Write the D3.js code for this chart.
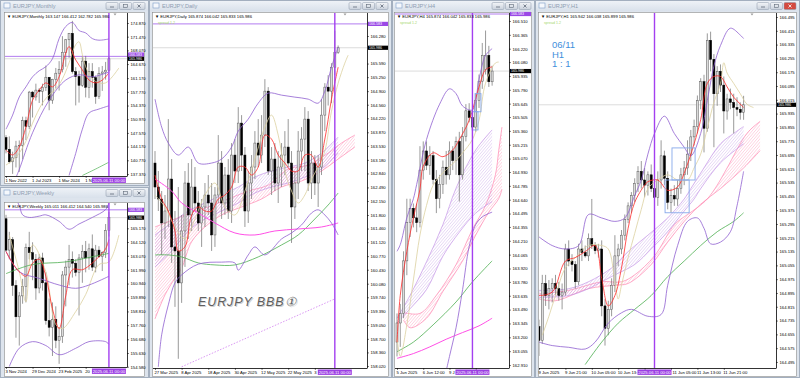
<!DOCTYPE html>
<html>
<head>
<meta charset="utf-8">
<script src="https://cdn.jsdelivr.net/npm/d3@7"></script>
<style>
  html, body { margin: 0; padding: 0; background: #d3dbe5; }
  svg { display: block; font-family: "Liberation Sans", Arial, sans-serif; }
</style>
</head>
<body>
<svg id="chart" width="800" height="378"></svg>
<script>
// ---------- data : [open, high, low, close] per bar ----------
const monthlyCandles = [
  [146.4,147.0,142.5,143.5],[143.5,146.7,140.0,140.4],[140.4,142.9,137.4,141.4],[141.4,145.6,139.0,144.3],
  [144.3,145.7,137.9,144.5],[144.5,151.6,141.0,150.6],[150.6,151.6,145.8,149.2],[149.2,158.0,148.5,157.7],
  [157.7,158.0,151.4,156.5],[156.5,159.8,155.6,158.2],[158.2,158.7,155.0,157.9],[157.9,159.8,154.4,158.9],
  [158.9,164.3,158.0,161.4],[161.4,161.4,153.2,155.7],[155.7,161.0,154.8,160.9],[160.9,163.7,158.6,162.4],
  [162.4,165.4,158.1,163.3],[163.3,171.6,162.6,167.6],[167.6,170.9,164.0,170.7],[170.7,172.4,166.2,172.3],
  [172.3,175.4,162.3,162.8],[162.8,163.9,154.4,161.6],[161.6,163.0,155.1,159.4],[159.4,166.7,159.0,165.4],
  [165.4,166.7,156.4,158.9],[158.9,164.9,156.2,162.8],[162.8,164.9,158.8,161.3],[161.3,161.8,154.8,156.6],
  [156.6,163.9,156.0,162.3],[162.3,164.2,158.0,162.7],[162.7,165.2,160.8,163.147],[163.147,166.412,162.782,165.986]
];
const monthlyTicks = [174.870,171.470,168.070,164.670,161.170,157.770,154.370,150.970,147.570,144.170,140.770,137.370];
const monthlyTimes = [[0,"1 Nov 2022"],[8,"1 Jul 2023"],[16,"1 Mar 2024"],[24,"1 Nov 2024"]];
const monthlyBBUpper = [[0,148.5],[2,152],[4,156.5],[6,159],[8,161.5],[10,163],[12,164],[14,166],[16,171],[18,174],[20,175],[22,173],[24,172.4],[26,171],[28,170.6],[31,170.9]];
const monthlyBBMid = [[3,136.5],[4,138.5],[8,147.6],[13,155.7],[18,160.7],[22,162.0],[26,161.5],[31,162.7]];
const monthlyBBLower = [[19,137.0],[21,142.5],[23,148.5],[25,152.5],[28,153.5],[31,154.3]];
const monthlyFast = [[0,143.3],[2,142.1],[4,144.1],[6,149],[8,155.7],[10,158.2],[12,160],[14,159],[16,161.5],[18,167.4],[19,169],[21,165.7],[23,163.2],[25,160.7],[27,160],[29,160.7],[31,162.5]];
const monthlyLag = [[0,139.6],[3,141.5],[6,145.5],[8,150],[11,155],[13,157],[15,158.5],[17,161],[19,165],[21,169.5],[22,170.2],[23,167],[24,164],[26,161],[28,160],[30,160],[32,161.5],[34,163.7]];
const monthlySlow = [[23,137.0],[27,138.6],[31,140.3]];

const weeklyCandles = [
  [165.9,166.2,163.4,163.5],[163.5,164.9,162.8,164.3],[164.3,164.5,160.0,160.8],[160.8,161.2,156.8,158.4],
  [158.4,160.3,156.2,160.0],[160.0,161.3,159.4,160.7],[160.7,164.0,159.5,163.7],[163.7,164.9,162.8,163.3],
  [163.3,164.1,161.2,162.8],[162.8,163.2,159.7,160.6],[160.6,163.2,160.2,162.9],[162.9,163.3,160.4,161.0],
  [161.0,161.8,157.8,158.1],[158.1,159.8,156.9,157.6],[157.6,159.5,155.4,158.2],[158.2,159.2,156.0,156.6],
  [156.6,157.6,154.8,156.9],[156.9,161.9,156.4,161.6],[161.6,162.7,159.2,162.2],[162.2,163.9,160.8,162.8],
  [162.8,163.4,161.4,162.5],[162.5,162.8,161.5,161.8],[161.8,163.2,158.5,162.9],[162.9,163.9,161.0,163.4],
  [163.4,164.2,161.8,162.9],[162.9,164.0,162.0,163.6],[163.6,164.7,161.9,162.2],[162.2,163.9,161.8,163.5],
  [163.5,163.8,162.9,163.0],[163.0,163.4,161.9,163.3],[163.3,165.5,162.9,165.0],[165.011,166.412,164.54,165.986]
];
const weeklyTicks = [165.170,164.120,163.070,161.990,160.940,159.890,158.810,157.760,156.680,155.630,154.580];
const weeklyTimes = [[0,"3 Nov 2024"],[8,"29 Dec 2024"],[16,"23 Feb 2025"],[24,"20 Apr 2025"]];
const weeklyBBUpper = [[0,168.3],[2,167.8],[4,166.9],[5,166.2],[7,166.0],[10,166.1],[12,166.2],[16,165.7],[19,165.1],[22,165.5],[26,166.0],[30,166.6],[31,167.1]];
const weeklyBBMid = [[0,163.4],[4,161.85],[10,161.34],[16,160.83],[21,160.58],[25,160.83],[31,161.5]];
const weeklyBBLower = [[1,154.6],[4,156.0],[8,156.5],[12,156.2],[16,155.5],[21,155.99],[25,156.5],[30,156.5],[31,156.3]];
const weeklyFast = [[0,163.4],[2,162.5],[4,161.85],[6,161.5],[8,162.5],[10,162.8],[12,161.5],[14,159.0],[16,157.5],[18,160.0],[20,162.0],[23,162.0],[25,162.3],[28,163.0],[30,163.6],[31,164.3]];
const weeklyLag = [[1,164.65],[4,161.85],[6,159.55],[8,163.9],[12,161.85],[15,157.8],[17,157.5],[21,158.8],[24,160.1],[28,162.4],[31,162.6],[34,164.65]];
const weeklySlow = [[0,161.7],[8,162.4],[18,162.6],[28,163.1],[31,163.25]];

const dailyCandles = [
  [163.1,163.4,162.2,162.5],[162.5,162.9,161.9,162.2],[162.2,162.4,160.8,161.6],[161.6,162.3,161.2,161.9],
  [161.9,164.2,161.5,162.7],[162.7,163.2,160.6,161.0],[161.0,161.9,159.5,160.9],[160.9,162.5,158.2,160.1],
  [160.1,161.8,159.6,161.4],[161.4,162.9,160.5,162.6],[162.6,163.1,161.2,161.8],[161.8,163.2,161.4,162.5],
  [162.5,163.0,161.9,162.1],[162.1,162.4,161.4,161.6],[161.6,162.2,161.0,162.0],[162.0,162.6,161.5,162.3],
  [162.3,162.8,161.8,162.1],[162.1,162.6,160.9,161.3],[161.3,162.5,161.0,162.3],[162.3,163.8,162.1,163.1],
  [163.1,163.4,161.7,162.1],[162.1,163.0,161.8,162.8],[162.8,163.2,161.7,161.9],[161.9,163.6,161.6,163.3],
  [163.3,163.7,162.6,162.9],[162.9,164.5,162.6,164.1],[164.1,164.3,162.9,163.3],[163.3,163.5,161.5,161.9],
  [161.9,162.9,161.6,162.6],[162.6,163.3,162.2,163.0],[163.0,163.9,162.7,163.6],[163.6,164.2,163.0,163.3],
  [163.3,164.3,163.1,163.8],[163.8,165.2,163.5,164.9],[164.9,165.0,162.8,162.9],[162.9,163.5,162.3,163.2],
  [163.2,163.6,162.4,162.6],[162.6,163.4,162.1,163.0],[163.0,163.6,162.5,163.3],[163.3,163.9,162.8,163.5],
  [163.5,164.2,163.0,163.1],[163.1,163.4,161.1,162.0],[162.0,162.9,161.7,162.6],[162.6,163.9,162.2,163.4],
  [163.4,164.0,162.9,163.7],[163.7,164.5,162.9,164.2],[164.2,164.4,162.4,162.6],[162.6,163.4,162.2,163.1],
  [163.1,163.3,162.3,162.6],[162.6,163.3,162.0,163.0],[163.0,164.7,162.8,164.3],[164.3,165.1,163.9,165.0],
  [165.0,165.3,164.54,164.9],[164.9,165.6,164.6,165.5],[165.5,166.412,165.3,165.874],[165.874,166.042,165.833,165.986]
];
const dailyTicks = [166.280,165.930,165.590,165.250,164.900,164.560,164.220,163.870,163.530,163.180,162.840,162.490,162.150,161.800,161.460,161.120,160.770,160.430,160.080,159.740,159.390,159.050,158.700,158.360,158.020];
const dailyTimes = [[0,"27 Mar 2025"],[8,"8 Apr 2025"],[16,"18 Apr 2025"],[24,"30 Apr 2025"],[32,"12 May 2025"],[40,"22 May 2025"],[48,"3 Jun 2025"]];
const dailyBBUpper = [[0,164.7],[2,164.0],[4,163.6],[7,163.3],[10,163.5],[13,163.1],[17,163.1],[20,163.2],[23,163.5],[25,163.9],[28,164.2],[31,164.6],[34,164.85],[38,164.8],[42,164.75],[46,164.7],[49,164.6],[51,164.9],[53,165.5],[55,166.0]];
const dailyBBLower = [[1,158.0],[2,158.8],[4,159.55],[6,160.1],[8,160.3],[13,160.57],[20,160.62],[24,160.6],[25,160.42],[28,160.8],[30,161.0],[33,160.8],[38,161.2],[41,161.35],[44,161.55],[47,161.85],[49,161.93],[51,161.8],[53,161.6],[55,161.3]];
const dailyFast = [[0,162.8],[2,162.2],[4,161.9],[6,161.4],[7,160.9],[9,161.0],[11,161.8],[13,162.0],[15,161.9],[17,161.9],[19,162.2],[21,162.3],[23,162.5],[25,163.0],[27,163.0],[29,162.8],[31,163.0],[33,163.8],[35,163.7],[37,163.3],[39,163.1],[41,162.9],[43,162.9],[45,163.3],[47,163.3],[49,163.0],[51,163.7],[53,164.7],[55,165.5]];
const dailyLag = [[0,162.3],[3,162.0],[6,161.5],[9,161.2],[12,161.7],[15,162.3],[18,162.6],[21,162.0],[24,161.8],[27,162.4],[30,163.2],[33,164.0],[35,164.3],[37,163.8],[39,162.9],[41,162.4],[43,162.1],[45,162.3],[47,162.7],[49,163.0],[51,163.4],[53,164.4],[55,165.1],[57,165.6],[58,165.8]];
const dailySlow = [[0,160.8],[4,160.8],[8,160.75],[13,160.6],[18,160.55],[24,160.55],[31,160.75],[38,161.05],[43,161.3],[48,161.7],[52,162.05],[55,162.35]];
const dailyMagenta = [[0,162.7],[5,162.4],[8,162.1],[13,161.85],[18,161.6],[24,161.35],[30,161.3],[36,161.4],[43,161.45],[50,161.5],[55,161.6]];
const dailyPurpleTop = [[0,161.3],[5,161.6],[10,161.9],[15,162.1],[20,162.3],[25,162.5],[30,162.75],[35,162.9],[40,163.0],[45,163.1],[50,163.35],[55,163.75]];
const dailyPurpleBottom = [[0,160.5],[5,160.9],[10,161.4],[15,161.7],[20,161.9],[25,162.1],[30,162.35],[35,162.5],[40,162.6],[45,162.75],[50,162.95],[55,163.35]];
const dailyPinkTop = [[0,161.5],[3,161.6],[6,161.7],[9,161.8],[12,161.9],[16,162.0],[22,162.2],[28,162.4],[34,162.55],[40,162.95],[46,163.05],[52,163.35],[56,163.6],[60,163.8]];
const dailyPinkBottom = [[0,159.2],[3,159.8],[6,160.22],[8,160.47],[11,161.13],[15,161.5],[20,161.8],[26,162.0],[32,162.2],[38,162.5],[44,162.65],[50,162.9],[55,163.2],[60,163.5]];
const dailyTrend = [[8,158.0],[54,159.7]];

const h4Candles = [
  [163.15,163.45,163.00,163.35],[163.35,163.55,163.10,163.45],[163.45,164.10,163.40,164.00],[164.00,164.65,163.85,164.40],
  [164.40,164.65,164.25,164.55],[164.55,164.60,164.35,164.45],[164.45,164.60,164.30,164.40],[164.40,165.20,164.35,164.95],
  [164.95,165.25,164.85,165.15],[165.15,165.25,164.95,165.00],[165.00,165.20,164.90,165.10],[165.10,165.15,164.80,164.85],
  [164.85,164.95,164.50,164.65],[164.65,164.90,164.55,164.80],[164.80,165.05,164.70,164.98],[164.98,165.15,164.80,164.90],
  [164.90,165.25,164.85,165.15],[165.15,165.20,164.95,165.05],[165.05,165.30,164.90,165.25],[165.25,165.35,164.62,164.90],
  [164.90,165.40,164.85,165.30],[165.30,165.64,165.25,165.57],[165.57,165.65,165.45,165.50],[165.50,165.55,165.30,165.40],
  [165.40,165.75,165.35,165.68],[165.68,165.95,165.60,165.88],[165.88,166.28,165.80,166.15],[166.00,166.41,165.95,166.15],
  [166.15,166.25,165.82,165.874],[165.874,166.042,165.833,165.986]
];
const h4Ticks = [166.510,166.365,166.220,166.080,165.935,165.790,165.645,165.505,165.360,165.215,165.070,164.930,164.785,164.640,164.495,164.355,164.210,164.065,163.920,163.780,163.635,163.490,163.345,163.200,163.055,162.910];
const h4Times = [[0,"5 Jun 2025"],[8,"6 Jun 12:00"],[16,"9 Jun 20:00"],[24,"11 Jun 04:00"]];
const h4BBUpper = [[0,164.1],[1,164.17],[3,164.45],[5,164.65],[6,164.8],[9,165.27],[13,165.64],[16,165.8],[18,165.75],[20,165.62],[23,165.58],[25,165.9],[27,166.15],[29,166.22]];
const h4BBLower = [[15,162.85],[16,163.0],[18,163.3],[20,163.7],[22,164.15],[24,164.38],[26,164.46],[29,164.51]];
const h4Fast = [[0,163.15],[1,163.64],[3,164.1],[5,164.45],[7,164.75],[8,164.99],[11,165.13],[14,165.09],[17,165.16],[19,165.27],[22,165.47],[25,165.82],[27,166.0],[29,166.03]];
const h4Lag = [[0,163.2],[1,163.0],[3,163.33],[5,163.8],[7,164.27],[9,164.58],[11,164.79],[14,164.92],[18,165.05],[20,165.13],[23,165.27],[25,165.47],[27,165.86],[30,166.07],[31,166.08]];
const h4Slow = [[0,163.05],[5,163.15],[11,163.33],[18,163.57],[23,163.78],[29,164.0]];
const h4Magenta = [[0,162.98],[5,163.03],[10,163.1],[15,163.18],[20,163.25],[25,163.32],[29,163.4]];
const h4PurpleTop = [[0,163.4],[4,163.64],[9,163.99],[14,164.38],[18,164.76],[24,165.16],[29,165.37]];
const h4PurpleBottom = [[0,163.35],[4,163.5],[9,163.7],[14,164.05],[19,164.3],[24,164.5],[29,164.62]];
const h4PinkTop = [[2,163.46],[7,163.45],[12,163.64],[18,163.96],[23,164.33],[27,164.58],[30,164.9],[31,165.15],[32,165.4]];
const h4PinkBottom = [[2,163.38],[4,163.3],[9,163.4],[14,163.68],[20,164.0],[24,164.27],[28,164.51],[31,164.65],[32,164.75]];
const h4Boxes = [[23.8,25.6,165.75,165.56],[22.9,24.7,165.56,165.37]];

const h1Candles = [
  [164.70,164.74,164.53,164.62],[164.62,165.00,164.60,164.95],[164.95,165.00,164.82,164.88],[164.88,164.97,164.80,164.92],
  [164.92,164.98,164.84,164.95],[164.95,165.00,164.88,164.92],[164.92,164.96,164.85,164.88],[164.88,164.95,164.80,164.90],
  [164.90,165.18,164.88,165.15],[165.15,165.20,165.05,165.08],[165.08,165.12,165.02,165.06],[165.06,165.08,164.92,164.96],
  [164.96,165.18,164.94,165.15],[165.15,165.20,165.08,165.13],[165.13,165.17,165.10,165.11],[165.11,165.24,165.08,165.21],
  [165.21,165.44,165.15,165.17],[165.17,165.19,165.12,165.14],[165.14,165.18,165.10,165.15],[165.15,165.20,164.76,164.82],
  [164.82,164.86,164.59,164.69],[164.69,164.85,164.65,164.80],[164.80,164.98,164.76,164.94],[164.94,165.23,164.90,165.11],
  [165.11,165.18,165.05,165.15],[165.15,165.26,165.12,165.23],[165.23,165.35,165.20,165.32],[165.32,165.42,165.30,165.40],
  [165.40,165.48,165.36,165.46],[165.46,165.56,165.42,165.53],[165.53,165.63,165.48,165.60],[165.60,165.66,165.50,165.55],
  [165.55,165.62,165.45,165.52],[165.52,165.60,165.46,165.58],[165.58,165.64,165.48,165.50],[165.50,165.56,165.40,165.45],
  [165.45,165.60,165.40,165.55],[165.55,165.78,165.50,165.69],[165.69,165.72,165.52,165.56],[165.56,165.60,165.38,165.42],
  [165.42,165.50,165.36,165.46],[165.46,165.52,165.40,165.44],[165.44,165.55,165.40,165.50],[165.50,165.62,165.47,165.58],
  [165.58,165.66,165.52,165.62],[165.62,165.78,165.58,165.70],[165.70,165.84,165.66,165.80],[165.80,165.90,165.75,165.86],
  [165.86,166.04,165.82,166.01],[166.01,166.14,165.96,166.12],[166.12,166.16,165.71,165.85],[165.85,166.40,165.83,166.36],
  [166.36,166.41,166.18,166.25],[166.25,166.28,165.74,166.05],[166.05,166.21,165.98,166.18],[166.18,166.22,166.06,166.10],
  [166.10,166.15,165.82,165.95],[165.95,166.05,165.90,166.02],[166.02,166.08,165.96,166.00],[166.00,166.05,165.82,165.97],
  [165.97,166.03,165.92,165.96],[165.96,166.00,165.90,165.942],[165.942,166.038,165.899,165.986]
];
const h1Ticks = [166.495,166.415,166.335,166.255,166.175,166.095,166.015,165.935,165.855,165.775,165.695,165.615,165.535,165.455,165.375,165.295,165.215,165.135,165.055,164.975,164.895,164.815,164.735,164.655,164.575,164.495];
const h1Times = [[0,"9 Jun 2025"],[8,"9 Jun 21:00"],[16,"10 Jun 05:00"],[24,"10 Jun 13:00"],[32,"10 Jun 21:00"],[40,"11 Jun 05:00"],[48,"11 Jun 13:00"],[56,"11 Jun 21:00"]];
const h1BBUpper = [[0,165.22],[4,165.17],[8,165.15],[12,165.17],[15,165.35],[19,165.33],[23,165.31],[26,165.33],[29,165.46],[31,165.55],[33,165.7],[35,165.82],[38,165.92],[41,165.82],[44,165.74],[46,165.69],[49,165.82],[51,166.01],[53,166.21],[55,166.33],[58,166.43],[61,166.39],[62,166.37]];
const h1BBLower = [[0,164.61],[4,164.59],[9,164.58],[14,164.57],[17,164.61],[21,164.72],[25,164.78],[28,164.8],[33,164.76],[37,164.77],[39,164.94],[42,165.17],[45,165.31],[48,165.33],[50,165.27],[52,165.18],[55,165.19],[58,165.25],[60,165.4],[62,165.6]];
const h1Fast = [[0,164.88],[4,164.9],[8,165.08],[11,165.1],[14,165.135],[17,165.17],[19,164.98],[21,164.82],[23,164.88],[25,165.04],[27,165.27],[29,165.42],[32,165.52],[33,165.54],[36,165.55],[39,165.49],[42,165.51],[44,165.59],[47,165.76],[49,165.9],[51,166.11],[53,166.15],[55,166.15],[57,166.09],[59,166.03],[61,165.99],[62,165.97]];
const h1Lag = [[1,164.65],[3,164.76],[5,164.88],[8,165.04],[11,165.1],[15,165.17],[19,165.17],[21,165.15],[23,164.96],[24,164.86],[25,164.94],[27,165.1],[29,165.24],[31,165.38],[33,165.5],[36,165.55],[39,165.58],[42,165.55],[45,165.55],[47,165.62],[49,165.7],[51,165.85],[53,166.0],[55,166.11],[56,166.23],[57,166.17],[59,166.11],[61,166.05],[63,165.99],[65,165.97]];
const h1Slow = [[14,164.48],[19,164.61],[24,164.72],[29,164.8],[34,164.88],[39,164.99],[44,165.08],[49,165.17],[54,165.25],[59,165.31],[62,165.36]];
const h1PurpleTop = [[0,164.91],[9,164.92],[15,164.96],[22,165.04],[27,165.135],[33,165.23],[39,165.33],[44,165.44],[46,165.5],[49,165.59],[55,165.76],[59,165.82],[62,165.86]];
const h1PurpleBottom = [[0,164.87],[9,164.88],[15,164.92],[19,164.96],[23,165.0],[29,165.06],[34,165.15],[39,165.25],[44,165.37],[47,165.44],[49,165.5],[55,165.65],[62,165.76]];
const h1PinkTop = [[0,164.89],[9,164.91],[19,164.96],[25,164.96],[29,165.0],[35,165.11],[41,165.29],[45,165.35],[48,165.39],[51,165.44],[54,165.52],[57,165.62],[63,165.82],[67,165.89]];
const h1PinkBottom = [[0,164.86],[5,164.85],[15,164.92],[23,164.94],[27,164.95],[34,165.06],[39,165.19],[44,165.31],[49,165.41],[55,165.5],[62,165.62],[67,165.72]];
const h1Boxes = [[40.3,47.3,165.736,165.55],[38.2,45.5,165.55,165.36]];
const h1Notes = ["06/11", "H1", "1 : 1"];

const markLevel = 166.583;
const markTime = "2025.06.11 00:00";

// ---------- drawing ----------
const svg = d3.select("#chart");
const defs = svg.append("defs");

function hatch(id, color) {
  const p = defs.append("pattern").attr("id", id).attr("patternUnits", "userSpaceOnUse")
    .attr("width", 2.2).attr("height", 2.2).attr("patternTransform", "rotate(40)");
  p.append("line").attr("x1", 0).attr("y1", 0).attr("x2", 0).attr("y2", 2.2)
    .attr("stroke", color).attr("stroke-width", 0.7);
}
hatch("hatchPink", "#ff8db4");
hatch("hatchPurple", "#c29be6");

const tg = defs.append("linearGradient").attr("id", "titleGrad").attr("x1", 0).attr("y1", 0).attr("x2", 0).attr("y2", 1);
tg.append("stop").attr("offset", "0%").attr("stop-color", "#eef2f7");
tg.append("stop").attr("offset", "100%").attr("stop-color", "#d9e1eb");
const bg = defs.append("linearGradient").attr("id", "btnGrad").attr("x1", 0).attr("y1", 0).attr("x2", 0).attr("y2", 1);
bg.append("stop").attr("offset", "0%").attr("stop-color", "#f3f5f8");
bg.append("stop").attr("offset", "100%").attr("stop-color", "#c9d1dc");

const fmt = d3.format(".3f");

function drawPanel(p, idx) {
  const [wx, wy, ww, wh] = p.win;
  const [cx0, cy0, cx1, cy1] = p.chart;
  const g = svg.append("g");

  // window frame + title bar
  g.append("rect").attr("x", wx + 0.5).attr("y", wy + 0.5).attr("width", ww - 1).attr("height", wh - 1)
    .attr("fill", "#dde4ed").attr("stroke", "#a3afbf");
  g.append("rect").attr("x", wx + 1).attr("y", wy + 1).attr("width", ww - 2).attr("height", 10).attr("fill", "url(#titleGrad)");
  g.append("rect").attr("x", wx + 4).attr("y", wy + 3).attr("width", 6).attr("height", 5)
    .attr("fill", "#f5f8fc").attr("stroke", "#7c9cc6").attr("stroke-width", 0.6);
  g.append("text").attr("x", wx + 13).attr("y", wy + 8).attr("font-size", 5.6).attr("fill", "#8e9db1").text(p.title);
  [0, 1, 2].forEach(k => {
    const bx = wx + ww - 43 + k * 13.5;
    const red = p.active && k === 2;
    g.append("rect").attr("x", bx).attr("y", wy + 2.5).attr("width", 12).attr("height", 7).attr("rx", 1.2)
      .attr("fill", red ? "#d44a3f" : "url(#btnGrad)").attr("stroke", "#8a97a8").attr("stroke-width", 0.5);
    const gc = red ? "#fff" : "#606a78";
    if (k === 0) g.append("line").attr("x1", bx + 4).attr("x2", bx + 8).attr("y1", wy + 7).attr("y2", wy + 7).attr("stroke", gc).attr("stroke-width", 0.8);
    if (k === 1) g.append("rect").attr("x", bx + 4).attr("y", wy + 4.5).attr("width", 4).attr("height", 3).attr("fill", "none").attr("stroke", gc).attr("stroke-width", 0.6);
    if (k === 2) g.append("path").attr("d", `M${bx + 4.5},${wy + 4.5}L${bx + 7.5},${wy + 7.5}M${bx + 7.5},${wy + 4.5}L${bx + 4.5},${wy + 7.5}`).attr("stroke", gc).attr("stroke-width", 0.8);
  });

  // chart background
  g.append("rect").attr("x", cx0 + 0.5).attr("y", cy0 + 0.5).attr("width", cx1 - cx0 - 1).attr("height", cy1 - cy0 - 1)
    .attr("fill", "#fff").attr("stroke", "#8a8a8a").attr("stroke-width", 0.6);

  const x = d3.scaleLinear().domain([0, 1]).range([p.firstBar, p.firstBar + p.step]);
  const y = d3.scaleLinear().domain(p.yDomain).range([p.plotBottom, cy0]);

  const clipId = "clip" + idx;
  defs.append("clipPath").attr("id", clipId).append("rect")
    .attr("x", cx0 + 1).attr("y", cy0 + 1).attr("width", p.plotRight - cx0 - 1).attr("height", p.plotBottom - cy0 - 1);
  const plot = g.append("g").attr("clip-path", `url(#${clipId})`);

  const line = d3.line().x(d => x(d[0])).y(d => y(d[1])).curve(d3.curveCatmullRom.alpha(0.5));

  // mark level and current price lines
  const hasMark = markLevel < p.yDomain[1];
  if (hasMark) {
    plot.append("line").attr("x1", cx0).attr("x2", p.plotRight).attr("y1", y(markLevel)).attr("y2", y(markLevel))
      .attr("stroke", "#b27cf0").attr("stroke-width", 1);
  }
  const last = p.candles[p.candles.length - 1];
  plot.append("line").attr("x1", cx0).attr("x2", p.plotRight).attr("y1", y(last[3])).attr("y2", y(last[3]))
    .attr("stroke", "#c4c4c4").attr("stroke-width", 0.6);

  // ribbons
  (p.ribbons || []).forEach(r => {
    const top = line(r.top);
    const bot = line(r.bottom.slice().reverse()).replace(/^M/, "L");
    plot.append("path").attr("d", top + bot + "Z").attr("fill", `url(#${r.pattern})`).attr("opacity", 0.85);
    plot.append("path").attr("d", line(r.top)).attr("fill", "none").attr("stroke", r.color).attr("stroke-width", 0.7);
    plot.append("path").attr("d", line(r.bottom)).attr("fill", "none").attr("stroke", r.color).attr("stroke-width", 0.7);
  });

  // candles
  const bw = p.step * 0.62;
  const cg = plot.append("g");
  cg.selectAll("line").data(p.candles).join("line")
    .attr("x1", (d, i) => x(i)).attr("x2", (d, i) => x(i))
    .attr("y1", d => y(d[1])).attr("y2", d => y(d[2]))
    .attr("stroke", "#6e6e6e").attr("stroke-width", 0.7);
  cg.selectAll("rect").data(p.candles).join("rect")
    .attr("x", (d, i) => x(i) - bw / 2)
    .attr("y", d => y(Math.max(d[0], d[3])))
    .attr("width", bw)
    .attr("height", d => Math.max(0.7, Math.abs(y(d[0]) - y(d[3]))))
    .attr("fill", d => d[3] >= d[0] ? "#dcdcdc" : "#000")
    .attr("stroke", d => d[3] >= d[0] ? "#5c5c5c" : "#000")
    .attr("stroke-width", 0.5);

  // indicator lines
  p.lines.forEach(l => {
    plot.append("path").attr("d", line(l.data)).attr("fill", "none")
      .attr("stroke", l.color).attr("stroke-width", l.width || 0.8)
      .attr("stroke-dasharray", l.dash || null);
  });

  // annotation boxes
  (p.boxes || []).forEach(b => {
    plot.append("rect").attr("x", x(b[0])).attr("y", y(b[2])).attr("width", x(b[1]) - x(b[0])).attr("height", y(b[3]) - y(b[2]))
      .attr("fill", "none").attr("stroke", "#86a8ea").attr("stroke-width", 0.9);
  });

  // vertical time line
  const vx = x(p.vBar);
  g.append("line").attr("x1", vx).attr("x2", vx).attr("y1", cy0 + 1).attr("y2", p.plotBottom)
    .attr("stroke", "#a33ff0").attr("stroke-width", 1.4);

  // chart shift marker
  if (p.shiftX) {
    g.append("path").attr("d", `M${p.shiftX - 1.5},${cy0 + 1.5}L${p.shiftX + 1.5},${cy0 + 1.5}L${p.shiftX},${cy0 + 3.5}Z`).attr("fill", "#999");
  }

  // price label box positions (mark box pushed up when it would sit on the price box)
  const boxH = 4.2;
  const lastY = y(last[3]);
  const boxYs = [lastY];
  const markY = hasMark ? Math.min(y(markLevel), lastY - boxH) : null;
  if (hasMark) boxYs.push(markY);

  // price axis (labels hidden where a price box sits on them)
  const ticks = p.ticks.filter(t => boxYs.every(v => Math.abs(y(t) - v) > 3));
  const ya = g.append("g").attr("transform", `translate(${p.plotRight},0)`)
    .call(d3.axisRight(y).tickValues(ticks).tickFormat(fmt).tickSize(2).tickSizeOuter(0).tickPadding(1.5));
  ya.select(".domain").remove();
  ya.selectAll(".tick line").attr("stroke", "#000").attr("stroke-width", 0.5);
  ya.selectAll("text").attr("font-size", 4.2).attr("fill", "#000").attr("font-family", "Liberation Sans, Arial, sans-serif");
  g.append("line").attr("x1", p.plotRight + 0.5).attr("x2", p.plotRight + 0.5).attr("y1", cy0 + 1).attr("y2", p.plotBottom)
    .attr("stroke", "#000").attr("stroke-width", 0.8);

  // time axis
  const xa = g.append("g").attr("transform", `translate(0,${p.plotBottom})`)
    .call(d3.axisBottom(x).tickValues(p.times.map(t => t[0])).tickFormat((d, i) => p.times[i][1]).tickSize(2).tickSizeOuter(0).tickPadding(1));
  xa.select(".domain").remove();
  xa.selectAll(".tick line").attr("stroke", "#000").attr("stroke-width", 0.5);
  xa.selectAll("text").attr("font-size", 4.2).attr("fill", "#000").attr("text-anchor", "start").attr("dx", -1)
    .attr("font-family", "Liberation Sans, Arial, sans-serif");
  g.append("line").attr("x1", cx0 + 1).attr("x2", p.plotRight + 0.5).attr("y1", p.plotBottom + 0.5).attr("y2", p.plotBottom + 0.5)
    .attr("stroke", "#000").attr("stroke-width", 0.8);

  // the purple time box covers part of the time labels, as in the terminal
  const boxL = vx - 17, boxR = vx + 17;
  xa.selectAll(".tick").each(function (d, i) {
    const t = d3.select(this).select("text");
    const tx = x(d) - 1;
    let s = p.times[i][1];
    const w = t.node().getComputedTextLength();
    if (tx + w <= boxL || tx >= boxR) return;
    if (tx < boxL) {
      while (s.length && tx + t.text(s).node().getComputedTextLength() > boxL - 0.5) s = s.slice(0, -1);
      s = s.trim();
      if (s.length) t.text(s); else t.remove();
    } else if (boxR - tx < 3) {
      t.attr("dx", boxR - tx - 0.5);
    } else {
      const parts = s.split(" ");
      const tail = parts.pop();
      const pre = t.text(parts.join(" ") + " ").node().getComputedTextLength();
      if (tx + pre >= boxR - 1) t.text(tail).attr("dx", pre - 1); else t.remove();
    }
  });

  // price label boxes
  const lw = cx1 - p.plotRight - 2;
  function priceBox(v, fill, cy) {
    g.append("rect").attr("x", p.plotRight + 1).attr("y", cy - boxH / 2).attr("width", lw).attr("height", boxH).attr("fill", fill);
    g.append("text").attr("x", p.plotRight + 2).attr("y", cy + 1.25).attr("font-size", 3.6).attr("fill", "#fff").text(fmt(v));
  }
  if (hasMark) priceBox(markLevel, "#9a48e6", markY);
  priceBox(last[3], "#000", lastY);

  // time label box
  g.append("rect").attr("x", boxL).attr("y", p.plotBottom + 1.5).attr("width", 34).attr("height", 5.4).attr("fill", "#9b3fe3");
  g.append("text").attr("x", vx).attr("y", p.plotBottom + 5.6).attr("text-anchor", "middle").attr("font-size", 4.2)
    .attr("fill", "#fff").text(markTime);

  // info line
  g.append("text").attr("x", cx0 + 3).attr("y", cy0 + 6).attr("font-size", 4.2).attr("fill", "#000")
    .text(`\u25BC ${p.title}  ${fmt(last[0])} ${fmt(last[1])} ${fmt(last[2])} ${fmt(last[3])}`);
  if (p.greenNote) {
    g.append("text").attr("x", cx0 + 6).attr("y", cy0 + 12).attr("font-size", 3.6).attr("fill", "#a6d86a").text("spread 1.2");
  }
  return { g, x, y };
}

const BB = "#8f5fd1";
const panels = [
  {
    title: "EURJPY,Monthly", win: [0, 0, 149, 186], chart: [4, 12, 145, 184], plotRight: 127, plotBottom: 176,
    firstBar: 6, step: 3.32, yDomain: [136.87, 177.60], candles: monthlyCandles, ticks: monthlyTicks, times: monthlyTimes,
    vBar: 31, shiftX: 115,
    lines: [
      { data: monthlySlow, color: "#4caf50", width: 0.7 },
      { data: monthlyLag, color: "#dcd0a0" },
      { data: monthlyBBUpper, color: BB }, { data: monthlyBBMid, color: BB }, { data: monthlyBBLower, color: BB },
      { data: monthlyFast, color: "#ff2a2a" }
    ]
  },
  {
    title: "EURJPY,Weekly", win: [0, 187, 149, 191], chart: [4, 202, 145, 377], plotRight: 127, plotBottom: 367,
    firstBar: 6, step: 3.32, yDomain: [154.559, 167.182], candles: weeklyCandles, ticks: weeklyTicks, times: weeklyTimes,
    vBar: 31, shiftX: 115,
    lines: [
      { data: weeklyLag, color: "#dcd0a0" },
      { data: weeklySlow, color: "#4caf50", width: 0.8 },
      { data: weeklyBBUpper, color: BB }, { data: weeklyBBMid, color: BB }, { data: weeklyBBLower, color: BB },
      { data: weeklyFast, color: "#ff2a2a" }
    ]
  },
  {
    title: "EURJPY,Daily", win: [149, 0, 243, 378], chart: [152, 12, 389, 377], plotRight: 367, plotBottom: 368,
    firstBar: 155, step: 3.33, yDomain: [157.97, 166.881], candles: dailyCandles, ticks: dailyTicks, times: dailyTimes,
    vBar: 54, shiftX: 345, greenNote: true,
    ribbons: [
      { top: dailyPinkTop, bottom: dailyPinkBottom, color: "#ff86b0", pattern: "hatchPink" },
      { top: dailyPurpleTop, bottom: dailyPurpleBottom, color: "#c495e6", pattern: "hatchPurple" }
    ],
    lines: [
      { data: dailyTrend, color: "#d07ef0", dash: "1.5,1.5" },
      { data: dailySlow, color: "#4caf50", width: 0.8 },
      { data: dailyMagenta, color: "#ff4fe6", width: 1 },
      { data: dailyLag, color: "#dcd0a0" },
      { data: dailyBBUpper, color: BB }, { data: dailyBBLower, color: BB },
      { data: dailyFast, color: "#ff2a2a" }
    ]
  },
  {
    title: "EURJPY,H4", win: [392, 0, 143, 378], chart: [394, 12, 532, 377], plotRight: 509, plotBottom: 368,
    firstBar: 397, step: 3.28, yDomain: [162.879, 166.604], candles: h4Candles, ticks: h4Ticks, times: h4Times,
    vBar: 23, greenNote: true, boxes: h4Boxes,
    ribbons: [
      { top: h4PinkTop, bottom: h4PinkBottom, color: "#ff86b0", pattern: "hatchPink" },
      { top: h4PurpleTop, bottom: h4PurpleBottom, color: "#c495e6", pattern: "hatchPurple" }
    ],
    lines: [
      { data: h4Slow, color: "#4caf50", width: 0.8 },
      { data: h4Magenta, color: "#ff4fe6", width: 1 },
      { data: h4Lag, color: "#dcd0a0" },
      { data: h4BBUpper, color: BB }, { data: h4BBLower, color: BB },
      { data: h4Fast, color: "#ff2a2a" }
    ]
  },
  {
    title: "EURJPY,H1", win: [535, 0, 265, 378], chart: [538, 12, 797, 377], plotRight: 776, plotBottom: 368,
    firstBar: 539, step: 3.3, yDomain: [164.46, 166.524], candles: h1Candles, ticks: h1Ticks, times: h1Times,
    vBar: 35, shiftX: 752, greenNote: true, active: true, boxes: h1Boxes,
    ribbons: [
      { top: h1PinkTop, bottom: h1PinkBottom, color: "#ff86b0", pattern: "hatchPink" },
      { top: h1PurpleTop, bottom: h1PurpleBottom, color: "#c495e6", pattern: "hatchPurple" }
    ],
    lines: [
      { data: h1Slow, color: "#4caf50", width: 0.8 },
      { data: h1Lag, color: "#dcd0a0" },
      { data: h1BBUpper, color: BB }, { data: h1BBLower, color: BB },
      { data: h1Fast, color: "#ff2a2a" }
    ]
  }
];

const drawn = panels.map((p, i) => drawPanel(p, i));

// daily caption
const dg = drawn[2].g;
dg.append("text").attr("x", 199).attr("y", 307).attr("font-size", 12.5).attr("font-style", "italic")
  .attr("letter-spacing", 0.9).attr("fill", "#d0d0d0").text("EURJPY  BBB\u2460");
dg.append("text").attr("x", 198).attr("y", 306).attr("font-size", 12.5).attr("font-style", "italic")
  .attr("letter-spacing", 0.9).attr("fill", "#5f5f5f").text("EURJPY  BBB\u2460");

// H1 note
const hg = drawn[4].g;
hg.selectAll("text.note").data(h1Notes).join("text").attr("class", "note")
  .attr("x", 552).attr("y", (d, i) => 48 + i * 9.5)
  .attr("font-size", 9.5).attr("fill", "#3f8fdc").text(d => d);
</script>
</body>
</html>
